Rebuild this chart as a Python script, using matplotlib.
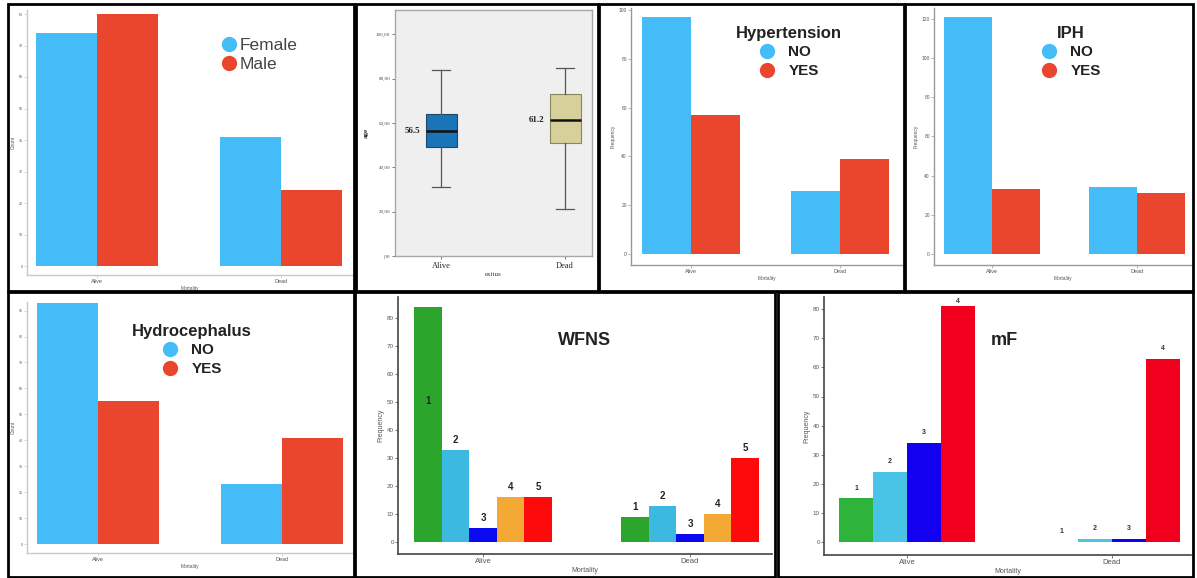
import matplotlib
matplotlib.use("Agg")
import matplotlib.pyplot as plt
from matplotlib.lines import Line2D
from matplotlib.patches import Rectangle
import numpy as np

W, H = 1197, 578

# ---------------- data ----------------
mortality = ["Alive", "Dead"]

gender_labels = ["Female", "Male"]
gender_female = [74, 41]
gender_male = [80, 24]

yn_labels = ["NO", "YES"]
htn_no = [97, 26]
htn_yes = [57, 39]

iph_no = [121, 34]
iph_yes = [33, 31]

hydro_no = [93, 23]
hydro_yes = [55, 41]

wfns_grades = ["1", "2", "3", "4", "5"]
wfns_alive = [84, 33, 5, 16, 16]
wfns_dead = [9, 13, 3, 10, 30]

mf_grades = ["1", "2", "3", "4"]
mf_alive = [15, 24, 34, 81]
mf_dead = [0, 1, 1, 63]

age_groups = ["Alive", "Dead"]
age_whislo = [31, 21]
age_q1 = [49, 51]
age_median = [56.5, 61.2]
age_q3 = [64, 73]
age_whishi = [84, 85]

ticks_gender = list(range(0, 81, 10))
ticks_hydro = list(range(0, 91, 10))
ticks_htn = list(range(0, 101, 20))
ticks_iph = list(range(0, 121, 20))
ticks_wfns = list(range(0, 81, 10))
ticks_mf = list(range(0, 81, 10))
ticks_age = list(range(0, 101, 20))

# ---------------- style ----------------
BLUE = "#43bcf7"
RED = "#ea462d"
wfns_colors = ["#2ca52c", "#3cb9e0", "#0a0af0", "#f4a935", "#ff0a0a"]
mf_colors = ["#2eb33b", "#4ac4e6", "#1400f0", "#f0001c"]

plt.rcParams["font.family"] = ["Liberation Sans", "DejaVu Sans"]

fig = plt.figure(figsize=(W / 100, H / 100), dpi=100)
fig.patch.set_facecolor("white")


def add_px_axes(x0, y0, x1, y1):
    return fig.add_axes([x0 / W, 1 - y1 / H, (x1 - x0) / W, (y1 - y0) / H])


def set_px_limits(ax, box, c0, c1, zero, ppu, base=0):
    x0, y0, x1, y1 = box
    s = c1 - c0
    ax.set_xlim(base + (x0 - c0) / s, base + (x1 - c0) / s)
    ax.set_ylim((zero - y1) / ppu, (zero - y0) / ppu)


def style_bar_axes(ax, yticks, spine_color, lw, ysize, xsize, labsize, ylabel,
                   tick_color="#555555"):
    ax.set_facecolor("none")
    for s in ["top", "right"]:
        ax.spines[s].set_visible(False)
    for s in ["left", "bottom"]:
        ax.spines[s].set_color(spine_color)
        ax.spines[s].set_linewidth(lw)
    ax.set_xticks(range(len(mortality)))
    ax.set_xticklabels(mortality, fontsize=xsize, color=tick_color)
    ax.set_yticks(yticks)
    ax.set_yticklabels([str(t) for t in yticks], fontsize=ysize, color=tick_color)
    ax.tick_params(length=2, width=0.5, color=spine_color, pad=1)
    ax.set_xlabel("Mortality", fontsize=labsize, color=tick_color, labelpad=1)
    ax.set_ylabel(ylabel, fontsize=labsize, color=tick_color, labelpad=2)


def dodge_bars(ax, series, colors, width):
    x = np.arange(len(mortality))
    n = len(series)
    out = []
    for i, (vals, c) in enumerate(zip(series, colors)):
        xs = x + (i - (n - 1) / 2) * width
        ax.bar(xs, vals, width, color=c, linewidth=0)
        out.append((xs, vals))
    return out


def circle_legend(ax, labels, colors, center_px, title=None, fontsize=12,
                  bold=True, ms=11, textpad=0.8, spacing=0.3, color="#222222"):
    handles = [Line2D([], [], ls="", marker="o", ms=ms, color=c,
                      markeredgewidth=0) for c in colors]
    leg = ax.legend(handles, labels, title=title, loc="center",
                    bbox_to_anchor=(center_px[0] / W, 1 - center_px[1] / H),
                    bbox_transform=fig.transFigure, frameon=False,
                    fontsize=fontsize, title_fontsize=fontsize + 1,
                    handlelength=1.0, handletextpad=textpad,
                    labelspacing=spacing, borderpad=0, borderaxespad=0)
    for t in leg.get_texts():
        t.set_color(color)
        if bold:
            t.set_fontweight("bold")
    if title:
        leg.get_title().set_fontweight("bold")
        leg.get_title().set_color(color)
    return leg


# ---------------- Panel A: gender ----------------
boxA = (27, 10, 352, 275)
axA = add_px_axes(*boxA)
dodge_bars(axA, [gender_female, gender_male], [BLUE, RED], 0.33)
set_px_limits(axA, boxA, 97, 281, 266, 3.15)
style_bar_axes(axA, ticks_gender, "#c8c8c8", 1.0, 2.5, 4, 3.5, "Count")
circle_legend(axA, gender_labels, [BLUE, RED], (259, 55), fontsize=12.5,
              bold=False, ms=11, textpad=0.1, spacing=0.2, color="#444444")

# ---------------- Panel B: age boxplot ----------------
boxB = (395, 10, 592, 256)
axB = add_px_axes(*boxB)
axB.set_facecolor("#efefef")
stats = [dict(label=g, whislo=a, q1=b, med=c, q3=d, whishi=e)
         for g, a, b, c, d, e in zip(age_groups, age_whislo, age_q1,
                                     age_median, age_q3, age_whishi)]
bp = axB.bxp(stats, positions=[1, 2], widths=0.25, patch_artist=True,
             showfliers=False, capwidths=0.15,
             medianprops=dict(color="#111111", lw=1.8),
             whiskerprops=dict(color="#555555", lw=0.9),
             capprops=dict(color="#555555", lw=0.9))
for patch, fc, ec in zip(bp["boxes"], ["#1a75b8", "#d6d09a"],
                         ["#24486a", "#8a8660"]):
    patch.set_facecolor(fc)
    patch.set_edgecolor(ec)
    patch.set_linewidth(0.8)
for pos, med in zip([1, 2], age_median):
    axB.text(pos - 0.125 - 0.04, med, f"{med}", ha="right", va="center",
             fontsize=6.5, fontweight="bold", family="Liberation Serif",
             color="#222222")
set_px_limits(axB, boxB, 441, 565, 256, 2.217, base=1)
for s in axB.spines.values():
    s.set_color("#a8a8a8")
    s.set_linewidth(1.0)
axB.set_yticks(ticks_age)


def spss_fmt(v):
    s = f"{v:.2f}".replace(".", ",")
    return s[1:] if s.startswith("0,") else s


axB.set_yticklabels([spss_fmt(t) for t in ticks_age], fontsize=3.6,
                    family="Liberation Serif", color="#444444")
axB.set_xticks([1, 2])
axB.set_xticklabels(age_groups, fontsize=6, family="Liberation Serif",
                    color="#222222")
axB.tick_params(length=2, width=0.5, color="#444444", pad=1.5)
axB.tick_params(axis="x", pad=2.5)
axB.set_xlabel("exitus", fontsize=5, family="Liberation Serif",
               color="#333333", labelpad=1)
axB.set_ylabel("age", fontsize=5, family="Liberation Serif",
               fontweight="bold", color="#222222", labelpad=5)

# ---------------- Panel C: hypertension ----------------
boxC = (631, 8, 902, 265)
axC = add_px_axes(*boxC)
dodge_bars(axC, [htn_no, htn_yes], [BLUE, RED], 0.33)
set_px_limits(axC, boxC, 691, 840, 254, 2.44)
style_bar_axes(axC, ticks_htn, "#999999", 1.0, 3.5, 4, 3.5, "Frequency")
circle_legend(axC, yn_labels, [BLUE, RED], (789, 52), title="Hypertension",
              fontsize=11, ms=11, textpad=0.9, spacing=0.3)

# ---------------- Panel D: IPH ----------------
boxD = (934, 8, 1191, 265)
axD = add_px_axes(*boxD)
dodge_bars(axD, [iph_no, iph_yes], [BLUE, RED], 0.33)
set_px_limits(axD, boxD, 992, 1137, 254, 1.96)
style_bar_axes(axD, ticks_iph, "#999999", 1.0, 3.5, 4, 3.5, "Frequency")
circle_legend(axD, yn_labels, [BLUE, RED], (1071, 52), title="IPH",
              fontsize=11, ms=11, textpad=0.9, spacing=0.3)

# ---------------- Panel E: hydrocephalus ----------------
boxE = (27, 302, 352, 553)
axE = add_px_axes(*boxE)
dodge_bars(axE, [hydro_no, hydro_yes], [BLUE, RED], 0.33)
set_px_limits(axE, boxE, 98, 282, 544, 2.593)
style_bar_axes(axE, ticks_hydro, "#c8c8c8", 1.0, 2.5, 4, 3.5, "Count")
circle_legend(axE, yn_labels, [BLUE, RED], (192, 350), title="Hydrocephalus",
              fontsize=11, ms=11, textpad=0.9, spacing=0.3)

# ---------------- Panel F: WFNS ----------------
boxF = (398, 297, 772, 554)
axF = add_px_axes(*boxF)
wfns_series = [[a, d] for a, d in zip(wfns_alive, wfns_dead)]
barsF = dodge_bars(axF, wfns_series, wfns_colors, 0.133)
set_px_limits(axF, boxF, 483, 690, 542, 2.8)
style_bar_axes(axF, ticks_wfns, "#444444", 1.2, 4.5, 5.5, 5, "Frequency")
topF = axF.get_ylim()[1]
for g, (xs, vals) in zip(wfns_grades, barsF):
    for xb, v in zip(xs, vals):
        y = v + 3.5 if v + 3.5 < topF - 1 else v * 0.6
        axF.text(xb, y, g, ha="center", va="center", fontsize=7,
                 fontweight="bold", color="#222222")
axF.text(0.5, 0.83, "WFNS", transform=axF.transAxes, ha="center",
         va="center", fontsize=13, fontweight="bold", color="#222222")

# ---------------- Panel G: mF ----------------
boxG = (824, 297, 1191, 555)
axG = add_px_axes(*boxG)
mf_series = [[a, d] for a, d in zip(mf_alive, mf_dead)]
barsG = dodge_bars(axG, mf_series, mf_colors, 0.165)
set_px_limits(axG, boxG, 907, 1112, 542, 2.91)
style_bar_axes(axG, ticks_mf, "#444444", 1.2, 4.5, 5.5, 5, "Frequency")
topG = axG.get_ylim()[1]
for g, (xs, vals) in zip(mf_grades, barsG):
    for xb, v in zip(xs, vals):
        y = min(v + 3.5, topG - 1.6)
        axG.text(xb, y, g, ha="center", va="center", fontsize=5,
                 fontweight="bold", color="#333333")
axG.text(0.49, 0.83, "mF", transform=axG.transAxes, ha="center",
         va="center", fontsize=13, fontweight="bold", color="#222222")

# ---------------- panel frames ----------------
frames = [(8, 4, 354, 291), (356, 4, 598, 291), (599, 4, 904, 291),
          (905, 4, 1193, 291), (8, 292, 354, 577), (355, 292, 775, 577),
          (778, 292, 1193, 577)]
for x0, y0, x1, y1 in frames:
    fig.add_artist(Rectangle((x0 / W, 1 - y1 / H), (x1 - x0) / W,
                             (y1 - y0) / H, transform=fig.transFigure,
                             fill=False, edgecolor="black", linewidth=2.0,
                             zorder=5))

fig.savefig("out.png", dpi=100, facecolor="white")
